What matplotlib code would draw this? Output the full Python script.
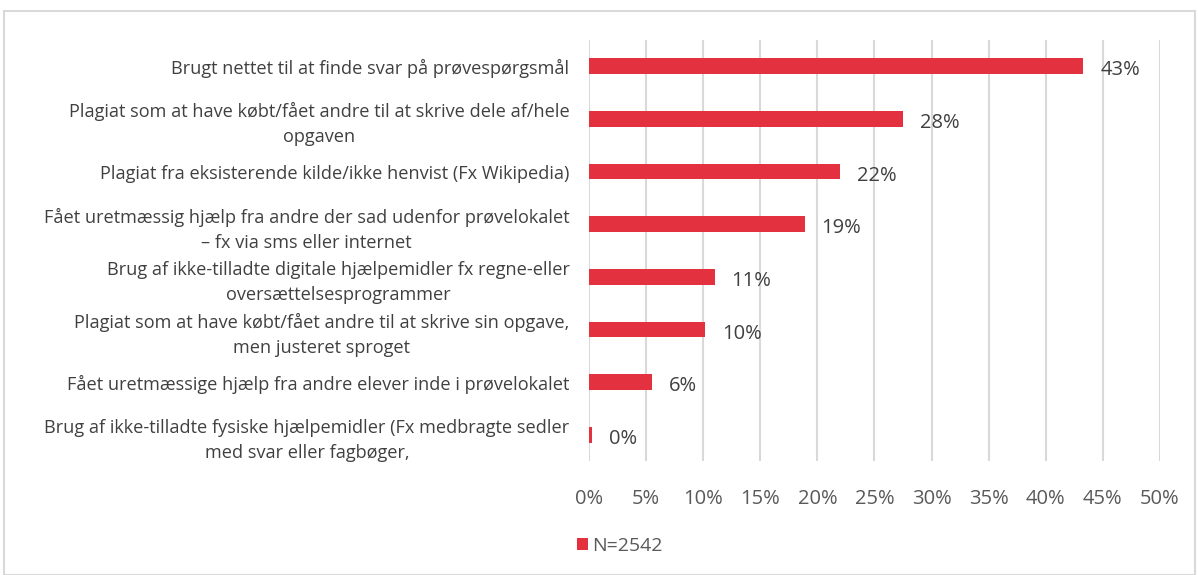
import matplotlib
matplotlib.use("Agg")
import matplotlib.pyplot as plt
from matplotlib.patches import Rectangle

categories = [
    "Brugt nettet til at finde svar på prøvespørgsmål",
    "Plagiat som at have købt/fået andre til at skrive dele af/hele\nopgaven",
    "Plagiat fra eksisterende kilde/ikke henvist (Fx Wikipedia)",
    "Fået uretmæssig hjælp fra andre der sad udenfor prøvelokalet\n– fx via sms eller internet",
    "Brug af ikke-tilladte digitale hjælpemidler fx regne-eller\noversættelsesprogrammer",
    "Plagiat som at have købt/fået andre til at skrive sin opgave,\nmen justeret sproget",
    "Fået uretmæssige hjælp fra andre elever inde i prøvelokalet",
    "Brug af ikke-tilladte fysiske hjælpemidler (Fx medbragte sedler\nmed svar eller fagbøger,",
]
values = [43.3, 27.5, 22.0, 18.9, 11.0, 10.2, 5.5, 0.3]
value_labels = ["43%", "28%", "22%", "19%", "11%", "10%", "6%", "0%"]
xticks = [0, 5, 10, 15, 20, 25, 30, 35, 40, 45, 50]
xtick_labels = [f"{t}%" for t in xticks]
series_name = "N=2542"

RED = "#E4313F"
plt.rcParams['font.family'] = ['Open Sans', 'DejaVu Sans']

fig = plt.figure(figsize=(11.98, 5.75), dpi=100)
W, H = 1198, 575
fig.patches.append(Rectangle((4 / W, 0), (1195 - 4) / W, (575 - 11) / H,
                             transform=fig.transFigure, fill=False,
                             edgecolor="#d9d9d9", linewidth=1.5))

ax = fig.add_axes([589 / W, 1 - 461 / H, (1160 - 589) / W, (461 - 40) / H])
n = len(categories)
ypos = list(range(n))
ax.barh(ypos, values, height=0.3, color=RED, zorder=3, label=series_name)
ax.set_ylim(n - 0.5, -0.5)
ax.set_xlim(0, 50)
ax.set_xticks(xticks)
ax.set_xticklabels(xtick_labels, fontsize=14.5, color="#595959")
ax.set_yticks(ypos)
ax.set_yticklabels(categories, fontsize=13.1, color="#404040",
                   multialignment="center", linespacing=1.5)
ax.tick_params(axis="x", length=0, pad=20)
ax.tick_params(axis="y", length=0, pad=14)
for s in ax.spines.values():
    s.set_visible(False)
ax.grid(axis="x", color="#d9d9d9", linewidth=1.5, zorder=0)
ax.set_axisbelow(True)

for y, v, lab in zip(ypos, values, value_labels):
    ax.annotate(lab, (v, y), xytext=(12, -3), textcoords="offset points",
                ha="left", va="center", fontsize=14.5, color="#404040")

leg = fig.legend(loc="center left", bbox_to_anchor=(559 / W, 1 - 546 / H),
                 frameon=False, fontsize=14, handlelength=0.6, handleheight=0.6,
                 handletextpad=0.2, labelcolor="#595959")

fig.savefig("out.png", dpi=100)
